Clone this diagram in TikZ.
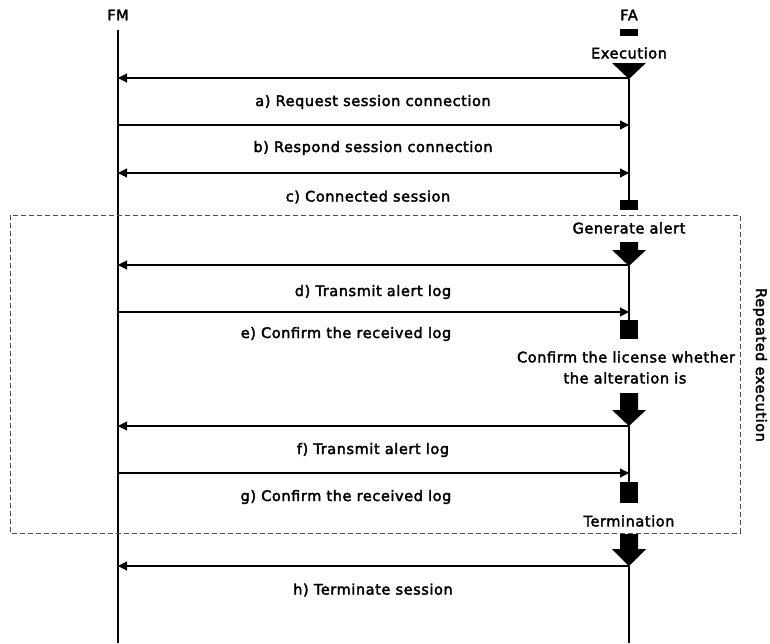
\documentclass[tikz,border=0pt]{standalone}
\usepackage{fontspec}
\newfontfamily\lblfont{DejaVu Sans}[FakeBold=2.5,LetterSpace=4]
\usetikzlibrary{arrows.meta}
\begin{document}
\begin{tikzpicture}[x=1pt,y=-1pt,
  lbl/.style={font=\lblfont\fontsize{14.5}{16}\selectfont, inner sep=0pt, anchor=center},
  life/.style={line width=1.3pt},
  msg/.style={line width=1.1pt,-{Triangle[length=9pt,width=9pt]}},
  dmsg/.style={line width=1.1pt,{Triangle[length=9pt,width=9pt]}-{Triangle[length=9pt,width=9pt]}},
  blk/.style={fill=black,draw=none}]
\useasboundingbox (0,0) rectangle (770,643);
% participants
\node[lbl] (FM) at (118,15) {FM};
\node[lbl] (FA) at (629,15) {FA};
% lifelines
\coordinate (fmtop) at (118,30);
\coordinate (fmbot) at (118,643);
\draw[life] (fmtop) -- (fmbot);
\draw[life] (629,79) -- (629,200);
\draw[life] (629,266) -- (629,320);
\draw[life] (629,426) -- (629,482);
\draw[life] (629,566) -- (629,643);
% FA start bar
\fill[blk] (620,29) rectangle (638,36);
\node[lbl] (exec) at (629,53) {Execution};
\fill[blk] (612,63) -- (646,63) -- (629,79) -- cycle;
% messages coordinates
\foreach \n/\y in {1/78,2/125,3/173,4/265,5/312,6/426,7/473,8/566}{
  \coordinate (fm\n) at (118,\y);
  \coordinate (fa\n) at (629,\y);
}
\draw[msg] (fa1) -- (fm1);
\node[lbl] (la) at (373,102) {a) Request session connection};
\draw[msg] (fm2) -- (fa2);
\node[lbl] (lb) at (373,148) {b) Respond session connection};
\draw[dmsg] (fm3) -- (fa3);
\node[lbl] (lc) at (368,197) {c) Connected session};
\fill[blk] (620,200) rectangle (638,210);
% repeated box
\draw[line width=0.8pt, draw=black!70, dash pattern=on 5pt off 3pt] (10,215) rectangle (740,533);
\node[lbl, rotate=-90] (rep) at (760,365) {Repeated execution};
\node[lbl] (gen) at (629,228) {Generate alert};
\fill[blk] (620,242) -- (638,242) -- (638,250) -- (646,250) -- (629,266) -- (612,250) -- (620,250) -- cycle;
\draw[msg] (fa4) -- (fm4);
\node[lbl] (ld) at (373,292) {d) Transmit alert log};
\draw[msg] (fm5) -- (fa5);
\node[lbl] (le) at (346,334) {e) Confirm the received log};
\fill[blk] (620,320) rectangle (638,339);
\node[lbl] (conf1) at (626,357) {Confirm the license whether};
\node[lbl] (conf2) at (625,378) {the alteration is};
\fill[blk] (620,393) -- (638,393) -- (638,410) -- (646,410) -- (629,426) -- (612,410) -- (620,410) -- cycle;
\draw[msg] (fa6) -- (fm6);
\node[lbl] (lf) at (373,450) {f) Transmit alert log};
\draw[msg] (fm7) -- (fa7);
\node[lbl] (lg) at (346,497) {g) Confirm the received log};
\fill[blk] (620,482) rectangle (638,503);
\node[lbl] (term) at (629,521) {Termination};
\fill[blk] (620,534) -- (638,534) -- (638,549) -- (646,549) -- (629,566) -- (612,549) -- (620,549) -- cycle;
\draw[msg] (fa8) -- (fm8);
\node[lbl] (lh) at (373,590) {h) Terminate session};
\end{tikzpicture}
\end{document}
